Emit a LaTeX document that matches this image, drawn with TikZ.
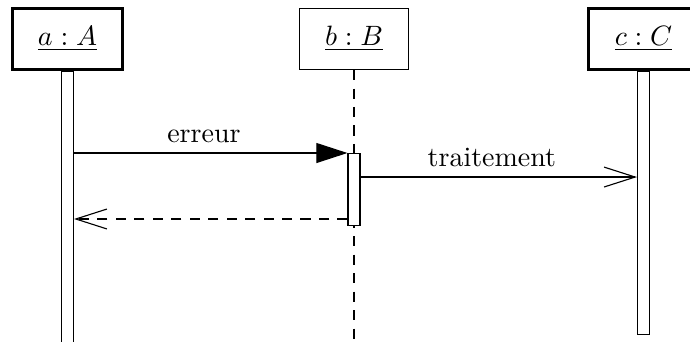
\documentclass[tikz,border=0pt]{standalone}
\usepackage{tikz}
\usetikzlibrary{arrows.meta,positioning,calc}
\tikzset{
  objbox/.style={
    rectangle, draw, fill=white, line width=#1,
    minimum width=1.38cm, minimum height=0.766cm,
    inner sep=2pt
  },
  objbox/.default=0.4pt,
  actbar/.style={
    rectangle, draw, fill=white, anchor=north,
    minimum width=0.15cm, inner sep=0pt, minimum height=#1
  },
  callarrow/.style={
    -{Triangle[length=0.39cm, width=0.25cm]}
  },
  msgarrow/.style={
    -{Straight Barb[length=0.39cm, width=0.25cm]}
  },
  retarrow/.style={
    msgarrow, dash pattern=on 3.6pt off 3pt
  },
  msglabel/.style={
    above, pos=0.475
  },
}

\begin{document}
\begin{tikzpicture}
  \useasboundingbox (0,0) rectangle (8.668,-4.296);
  % objects
  \node[objbox=0.8pt] (a) at (0.848,-0.490) {\underline{$a:A$}};
  \node[objbox] (b) at (4.447,-0.490) {\underline{$b:B$}};
  \node[objbox=0.8pt] (c) at (8.084,-0.490) {\underline{$c:C$}};
  % lifelines
  \node[actbar=3.6cm] (abar) at (a.south) {};
  \node[actbar=3.31cm] (cbar) at (c.south) {};
  \coordinate (bend) at (4.447,-4.4);
  \draw[dash pattern=on 3.6pt off 3pt] (b.south) -- (bend);
  \node[actbar=0.905cm] (bact) at (4.447,-1.922) {};
  % messages
  \coordinate (tr) at (0,-2.224);
  \coordinate (rt) at (0,-2.751);
  \draw[callarrow] (abar.east |- bact.north) -- (bact.north west)
    node[msglabel] (err) {erreur};
  \draw[msgarrow] (bact.east |- tr) -- (cbar.west |- tr)
    node[msglabel] (trt) {traitement};
  \draw[retarrow] (bact.west |- rt) -- (abar.east |- rt);
\end{tikzpicture}
\end{document}
